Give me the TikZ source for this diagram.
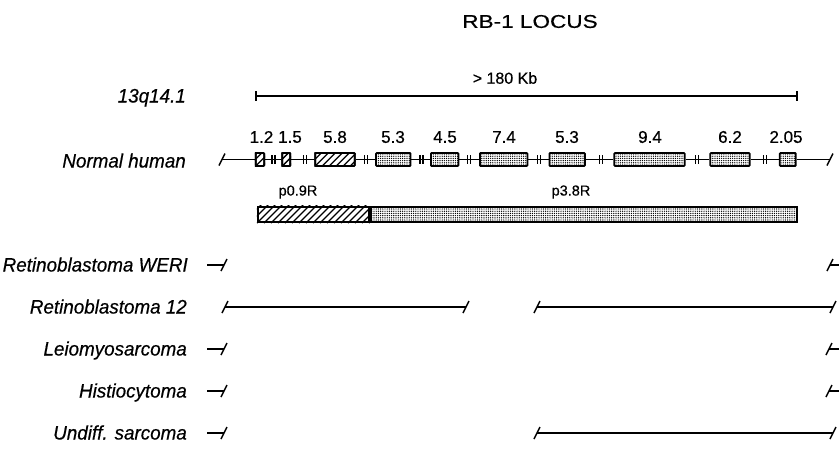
\documentclass[tikz,border=0pt]{standalone}
\usepackage{fontspec}
\usepackage{graphicx}
\setmainfont{Liberation Sans}[FakeBold=0.5]
\usetikzlibrary{patterns.meta}
\tikzset{
  exon/.style={draw, line width=1.8pt, rounded corners=0.8pt, minimum height=13pt, inner sep=0pt,
    pattern={Dots[radius=0.7pt, distance=2.2pt]}},
  hatchexon/.style={draw, line width=1.8pt, rounded corners=0.8pt, minimum height=13pt, inner sep=0pt},
  probe/.style={draw, line width=1.7pt, minimum height=15.5pt, inner sep=0pt},
  dotfill/.style={pattern={Dots[radius=0.7pt, distance=2.2pt]}},
  hatchline/.style={line width=1.4pt},
  geneline/.style={line width=1.6pt},
  rowline/.style={line width=1.4pt},
  slashmark/.style={line width=1.5pt},
  breakmark/.style={line width=1.4pt},
  scalebar/.style={line width=2pt},
  numlab/.style={inner sep=0pt, font=\fontsize{17}{19}\selectfont},
  probelab/.style={inner sep=0pt, font=\fontsize{14.5}{16}\selectfont},
  rowlab/.style={inner sep=0pt, anchor=base east, font=\fontsize{19.5}{21}\selectfont\itshape},
}
\newcommand{\rbslash}[1]{\draw[slashmark] ([shift={(-3,6)}]#1) -- ([shift={(3,-6)}]#1);}
\newcommand{\rbbreak}[1]{\draw[breakmark] (#1-1.5,155) -- (#1-1.5,164) (#1+1.5,155) -- (#1+1.5,164);}
\newcommand{\rblab}[1]{\scalebox{0.965}[1]{#1}}
% hatching inside a node: #1 node name, #2 end of range
\newcommand{\rbhatch}[2]{%
  \begin{scope}
    \clip (#1.south west) rectangle (#1.north east);
    \foreach \hx in {-21,-14,...,#2} {\draw[hatchline] ([xshift=\hx pt]#1.south west) -- ++(25,-25);}
  \end{scope}}
\begin{document}
\begin{tikzpicture}[x=1pt,y=-1pt]
\useasboundingbox (0,0) rectangle (839,451);

% title
\node[inner sep=0pt] (title) at (530,21.5) {\fontsize{18.5}{20}\selectfont\scalebox{1.22}[1]{RB-1 LOCUS}};

% scale bar
\coordinate (sL) at (256,96);
\coordinate (sR) at (797,96);
\draw[scalebar] (sL) -- (sR);
\draw[scalebar] ([shift={(0,-5)}]sL) -- ([shift={(0,5)}]sL);
\draw[scalebar] ([shift={(0,-5)}]sR) -- ([shift={(0,5)}]sR);
\node[numlab] (kb) at (505,78) {\fontsize{16}{18}\selectfont > 180 Kb};

% left labels
\node[rowlab] (lab13) at (186,102.5) {\rblab{13q14.1}};
\node[rowlab] (labN) at (186,167.5) {\rblab{Normal human}};
\node[rowlab] (labW) at (188,271.5) {\rblab{Retinoblastoma WERI}};
\node[rowlab] (lab12) at (187,313.5) {\rblab{Retinoblastoma 12}};
\node[rowlab] (labL) at (187,355.5) {\rblab{Leiomyosarcoma}};
\node[rowlab] (labH) at (187,397.5) {\rblab{Histiocytoma}};
\node[rowlab] (labU) at (187,439.5) {\rblab{Undiff. sarcoma}};

% exons
\node[hatchexon, minimum width=8.5pt] (e1) at (260,159.5) {};
\node[hatchexon, minimum width=8pt] (e2) at (286.3,159.5) {};
\node[hatchexon, minimum width=39.5pt] (e3) at (335,159.5) {};
\rbhatch{e1}{20}
\rbhatch{e2}{20}
\rbhatch{e3}{50}
\node[exon, minimum width=34.5pt] (e4) at (393.3,159.5) {};
\node[exon, minimum width=27.5pt] (e5) at (444.7,159.5) {};
\node[exon, minimum width=47.5pt] (e6) at (503.7,159.5) {};
\node[exon, minimum width=35.5pt] (e7) at (567.2,159.5) {};
\node[exon, minimum width=70.5pt] (e8) at (649.5,159.5) {};
\node[exon, minimum width=39.5pt] (e9) at (730,159.5) {};
\node[exon, minimum width=16pt] (e10) at (787.8,159.5) {};
% redraw hatched borders on top of hatching
\node[hatchexon, minimum width=8.5pt] at (e1) {};
\node[hatchexon, minimum width=8pt] at (e2) {};
\node[hatchexon, minimum width=39.5pt] at (e3) {};

\coordinate (gL) at (222,159.5);
\coordinate (gR) at (830,159.5);
\draw[geneline] (gL) -- (e1.west);
\draw[geneline] (e1.east) -- (e2.west);
\draw[geneline] (e2.east) -- (e3.west);
\draw[geneline] (e3.east) -- (e4.west);
\draw[geneline] (e4.east) -- (e5.west);
\draw[geneline] (e5.east) -- (e6.west);
\draw[geneline] (e6.east) -- (e7.west);
\draw[geneline] (e7.east) -- (e8.west);
\draw[geneline] (e8.east) -- (e9.west);
\draw[geneline] (e9.east) -- (e10.west);
\draw[geneline] (e10.east) -- (gR);
\rbslash{gL}
\rbslash{gR}

\rbbreak{273.5}
\rbbreak{305}
\rbbreak{366}
\rbbreak{421.5}
\rbbreak{469}
\rbbreak{539}
\rbbreak{601}
\rbbreak{697}
\rbbreak{765}

% exon size labels
\node[numlab] (n1) at (261.5,137) {1.2};
\node[numlab] (n2) at (290,137) {1.5};
\node[numlab] (n3) at (335,137) {5.8};
\node[numlab] (n4) at (393,137) {5.3};
\node[numlab] (n5) at (445,137) {4.5};
\node[numlab] (n6) at (504,137) {7.4};
\node[numlab] (n7) at (567,137) {5.3};
\node[numlab] (n8) at (650,137) {9.4};
\node[numlab] (n9) at (730,137) {6.2};
\node[numlab] (n10) at (786,137) {2.05};

% probes
\node[probe, minimum width=111.5pt] (p09) at (313.5,214.5) {};
\rbhatch{p09}{125}
\node[probe, minimum width=111.5pt] at (p09) {};
\node[probe, dotfill, minimum width=426.5pt] (p38) at (584,214.5) {};
\node[probelab] (lp09) at (298,192) {p0.9R};
\node[probelab] (lp38) at (571,192) {p3.8R};

% Retinoblastoma WERI
\coordinate (w1) at (207,265); \coordinate (w2) at (224,265);
\coordinate (w3) at (830,265); \coordinate (w4) at (839,265);
\draw[rowline] (w1) -- (w2); \rbslash{w2}
\draw[rowline] (w3) -- (w4); \rbslash{w3}

% Retinoblastoma 12
\coordinate (r1) at (225,307); \coordinate (r2) at (466,307);
\coordinate (r3) at (537,307); \coordinate (r4) at (833,307);
\draw[rowline] (r1) -- (r2); \rbslash{r1} \rbslash{r2}
\draw[rowline] (r3) -- (r4); \rbslash{r3} \rbslash{r4}

% Leiomyosarcoma
\coordinate (m1) at (207,349); \coordinate (m2) at (224,349);
\coordinate (m3) at (829,349); \coordinate (m4) at (839,349);
\draw[rowline] (m1) -- (m2); \rbslash{m2}
\draw[rowline] (m3) -- (m4); \rbslash{m3}

% Histiocytoma
\coordinate (h1) at (207,391); \coordinate (h2) at (224,391);
\coordinate (h3) at (829,391); \coordinate (h4) at (839,391);
\draw[rowline] (h1) -- (h2); \rbslash{h2}
\draw[rowline] (h3) -- (h4); \rbslash{h3}

% Undiff. sarcoma
\coordinate (u1) at (207,433); \coordinate (u2) at (224,433);
\coordinate (u3) at (537,433); \coordinate (u4) at (833,433);
\draw[rowline] (u1) -- (u2); \rbslash{u2}
\draw[rowline] (u3) -- (u4); \rbslash{u3} \rbslash{u4}
\end{tikzpicture}
\end{document}
